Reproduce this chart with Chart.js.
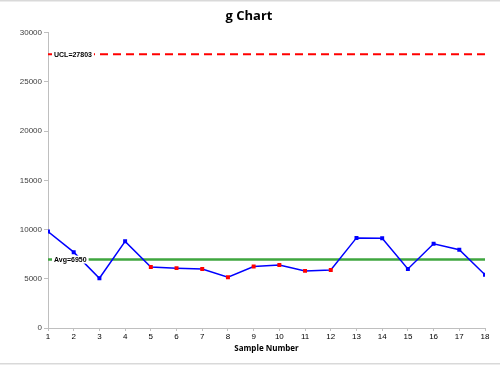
<!DOCTYPE html>
<html>
<head>
<meta charset="utf-8">
<script src="https://cdn.jsdelivr.net/npm/chart.js@4.4.1/dist/chart.umd.min.js"></script>
<style>
html,body{margin:0;padding:0;background:#fff;}
#wrap{width:500px;height:366px;position:relative;}
</style>
</head>
<body>
<div id="wrap"><canvas id="c" width="500" height="366"></canvas></div>
<script>
const samples = [1,2,3,4,5,6,7,8,9,10,11,12,13,14,15,16,17,18];
const values = [9800,7700,5050,8800,6200,6080,6000,5150,6250,6400,5800,5900,9150,9120,6000,8550,7950,5400];
const flagged = [false,false,false,false,true,true,true,true,true,true,true,true,false,false,false,false,false,false];
const UCL = 27803;
const AVG = 6950;
const yTicks = [0,5000,10000,15000,20000,25000,30000];

const pts = samples.map((s,i)=>({x:s,y:values[i]}));
const ptColors = flagged.map(f=>f?'#ff0000':'#0000ff');

const labelPlugin = {
  id:'labels',
  beforeDraw(chart){
    const ctx=chart.ctx;
    ctx.save();
    ctx.fillStyle='#fff';
    ctx.fillRect(0,0,chart.width,chart.height);
    ctx.fillStyle='#d9d9d9';
    ctx.fillRect(0,0,chart.width,1.5);
    ctx.fillRect(0,363,chart.width,1.5);
    ctx.restore();
  },
  afterDatasetsDraw(chart){
    const ctx=chart.ctx, y=chart.scales.y, x=chart.scales.x;
    const items=[['UCL='+UCL,UCL],['Avg='+AVG,AVG]];
    ctx.save();
    ctx.font='bold 7px "Liberation Sans", Arial, sans-serif';
    ctx.textBaseline='middle';
    items.forEach(([t,v])=>{
      const yy=y.getPixelForValue(v);
      const w=ctx.measureText(t).width;
      const x0=x.left+6;
      ctx.fillStyle='#fff';
      ctx.fillRect(x0-2,yy-4,w+4,8);
      ctx.fillStyle='#000';
      ctx.fillText(t,x0,yy+0.5);
    });
    ctx.restore();
  }
};

new Chart(document.getElementById('c'),{
  type:'scatter',
  data:{datasets:[
    {label:'UCL',data:[{x:1,y:UCL},{x:18,y:UCL}],showLine:true,borderColor:'#ff0000',borderWidth:2,borderDash:[8,5],pointRadius:0,order:3},
    {label:'Avg',data:[{x:1,y:AVG},{x:18,y:AVG}],showLine:true,borderColor:'#3fa63f',borderWidth:2.5,pointRadius:0,order:2},
    {label:'g',data:pts,showLine:true,borderColor:'#0000ff',borderWidth:1.5,pointStyle:'rect',pointRadius:2.8,pointBackgroundColor:ptColors,pointBorderColor:ptColors,pointBorderWidth:0,order:1}
  ]},
  plugins:[labelPlugin],
  options:{
    responsive:false,animation:false,
    layout:{padding:{left:13,right:15,top:0,bottom:4}},
    plugins:{
      legend:{display:false},tooltip:{enabled:false},
      title:{display:true,text:'g Chart',color:'#000',font:{family:'"Open Sans", "Liberation Sans", sans-serif',size:13,weight:'bold'},padding:{top:8,bottom:9}}
    },
    scales:{
      x:{type:'linear',min:1,max:18,
        afterBuildTicks(s){s.ticks=samples.map(v=>({value:v}));},
        afterFit(s){s.height=34;},
        grid:{drawOnChartArea:false,color:'#bfbfbf',tickLength:3},
        border:{color:'#bfbfbf'},
        ticks:{color:'#000',font:{family:'"Liberation Sans", Arial, sans-serif',size:8},padding:1,maxRotation:0,autoSkip:false},
        title:{display:true,text:'Sample Number',color:'#000',font:{family:'"Open Sans", "Liberation Sans", sans-serif',size:8,weight:'bold'},padding:{top:2,bottom:8}}
      },
      y:{min:0,max:30000,
        afterBuildTicks(s){s.ticks=yTicks.map(v=>({value:v}));},
        afterFit(s){s.width=35;},
        grid:{drawOnChartArea:false,color:'#bfbfbf',tickLength:4},
        border:{color:'#bfbfbf'},
        ticks:{color:'#404040',font:{family:'"Liberation Sans", Arial, sans-serif',size:8},padding:2,callback:v=>String(v)}
      }
    }
  }
});
</script>
</body>
</html>
